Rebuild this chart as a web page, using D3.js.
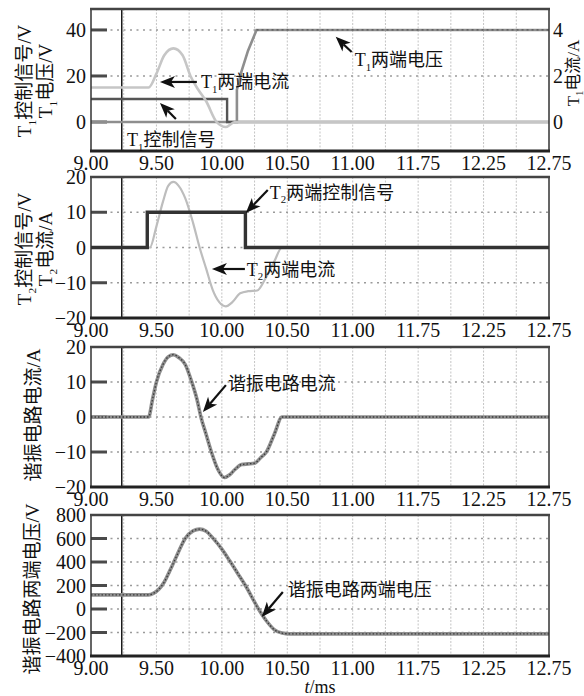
<!DOCTYPE html>
<html>
<head>
<meta charset="utf-8">
<script src="https://cdn.jsdelivr.net/npm/d3@7"></script>
<style>
body { margin: 0; background: #fff; }
svg text { font-family: "Liberation Serif", "Times New Roman", "Noto Sans CJK SC", serif; fill: #111; }
</style>
</head>
<body>
<div id="chart"></div>
<script>
// ---- data ----
var xTicks = [9, 9.5, 10, 10.5, 11, 11.5, 12, 12.5];
var xTickLabels = ["9.00", "9.50", "10.00", "10.50", "11.00", "11.75", "12.25", "12.75"];
var cursorT = 9.235;

// panel 1 : T1 control (V), T1 voltage (V), T1 current (A, right axis)
var p1Ticks = [0, 20, 40];
var p1RightTicks = [0, 2, 4];
var t1CtrlT = [9.00, 10.04, 10.04, 12.5];
var t1CtrlV = [10, 10, 0, 0];
var t1VoltT = [9.00, 10.115, 10.115, 10.15, 10.20, 10.265, 12.5];
var t1VoltV = [0, 0, 14, 22, 31, 40, 40];
var t1CurT = [9.00, 9.44, 9.50, 9.56, 9.63, 9.70, 9.76, 9.82, 9.88, 9.96, 10.03, 10.10, 12.5];
var t1CurA = [1.5, 1.5, 2.1, 2.9, 3.2, 2.9, 2.0, 1.4, 0.9, 0.0, -0.22, 0, 0];

// panel 2 : T2 control (V), T2 current (A)
var p2Ticks = [-20, -10, 0, 10, 20];
var t2CtrlT = [9.00, 9.43, 9.43, 10.18, 10.18, 12.5];
var t2CtrlV = [0, 0, 10, 10, 0, 0];
var t2CurT = [9.00, 9.45, 9.50, 9.55, 9.59, 9.63, 9.67, 9.72, 9.78, 9.83, 9.88, 9.93, 9.98, 10.03, 10.08, 10.14, 10.20, 10.27, 10.33, 10.40, 10.46, 12.5];
var t2CurA = [0, 0, 6, 13, 17.5, 18.6, 17.5, 14, 7, 0, -6, -12, -15.5, -16.7, -15.5, -13, -12.4, -12.2, -9, -4, 0, 0];

// panel 3 : resonant current (A)
var p3Ticks = [-20, -10, 0, 10, 20];
var resCurT = [9.00, 9.44, 9.47, 9.50, 9.55, 9.59, 9.63, 9.67, 9.72, 9.77, 9.81, 9.84, 9.88, 9.92, 9.97, 10.02, 10.06, 10.10, 10.15, 10.20, 10.25, 10.30, 10.34, 10.40, 10.46, 12.5];
var resCurA = [0, 0, 5, 10, 15, 17.2, 17.8, 17, 15, 10, 5, 0, -5, -10, -15, -17.3, -16.5, -15, -13.6, -13.4, -13.2, -11.5, -10, -5, 0, 0];

// panel 4 : resonant voltage (V)
var p4Ticks = [-400, -200, 0, 200, 400, 600, 800];
var resVolT = [9.00, 9.44, 9.48, 9.52, 9.56, 9.60, 9.65, 9.72, 9.78, 9.83, 9.88, 9.93, 10.00, 10.06, 10.12, 10.18, 10.28, 10.34, 10.40, 10.46, 10.52, 12.5];
var resVolV = [120, 120, 135, 170, 230, 320, 440, 600, 665, 680, 662, 605, 510, 410, 305, 200, 0, -100, -175, -205, -212, -212];

// annotations: [panel, text, tipT, tipV, tailT, tailV, textT, textV]
var notes = [
  [0, "T_1两端电流", 9.527, 17.4, 9.809, 17.4, 9.84, 17.4],
  [0, "T_1控制信号", 9.527, 8.3, 9.649, 1.3, 9.275, -7.8],
  [0, "T_1两端电压", 10.870, 37.0, 10.992, 30.4, 11.015, 27.0],
  [1, "T_2两端控制信号", 10.183, 9.8, 10.351, 16.3, 10.366, 15.7],
  [1, "T_2两端电流", 9.924, -6.1, 10.176, -6.1, 10.191, -6.1],
  [2, "谐振电路电流", 9.855, 1.4, 10.031, 9.1, 10.046, 9.7],
  [3, "谐振电路两端电压", 10.305, -68, 10.466, 145, 10.504, 162]
];

// ---- layout ----
var W = 584, H = 696;
var panels = [
  { top: 9,   bottom: 151, domain: [-12.6, 49.1], ticks: p1Ticks, ylab: ["T_1控制信号/V", "T_1电压/V"], labX: [25, 46], labY: 81 },
  { top: 177, bottom: 318, domain: [-20, 20], ticks: p2Ticks, ylab: ["T_2控制信号/V", "T_2电流/A"], labX: [25, 46], labY: 249 },
  { top: 347, bottom: 487, domain: [-20, 20], ticks: p3Ticks, ylab: ["谐振电路电流/A"], labX: [34], labY: 415 },
  { top: 515, bottom: 656, domain: [-400, 800], ticks: p4Ticks, ylab: ["谐振电路两端电压/V"], labX: [33], labY: 589 }
];

var svg = d3.select("#chart").append("svg")
  .attr("width", W)
  .attr("height", H);

var x = d3.scaleLinear().domain([9, 12.5]).range([91, 549]);
var gridT = d3.range(9.25, 12.5, 0.25);

function fillText(text, str, size) {
  var parts = str.split(/_(\d)/);
  parts.forEach(function (p, i) {
    if (!p) return;
    if (i % 2 == 1) {
      text.append("tspan").attr("font-size", size * 0.6).attr("dy", size * 0.25).text(p);
    } else {
      text.append("tspan").attr("dy", i > 0 ? -size * 0.25 : 0).text(p);
    }
  });
}

function lineOf(ts, vs, y, curve) {
  return d3.line()
    .x(function (d) { return x(d[0]); })
    .y(function (d) { return y(d[1]); })
    .curve(curve || d3.curveLinear)(d3.zip(ts, vs));
}

function arrow(g, x1, y1, x2, y2) {
  var a = Math.atan2(y2 - y1, x2 - x1), L = 15, w = 6;
  var bx = x2 - L * Math.cos(a), by = y2 - L * Math.sin(a);
  var nx = x2 - (L - 4) * Math.cos(a), ny = y2 - (L - 4) * Math.sin(a);
  g.append("line")
    .attr("x1", x1).attr("y1", y1).attr("x2", nx).attr("y2", ny)
    .attr("stroke", "#111").attr("stroke-width", 2.2);
  var pts = [[x2, y2],
    [bx - w * Math.sin(a), by + w * Math.cos(a)],
    [nx, ny],
    [bx + w * Math.sin(a), by - w * Math.cos(a)]];
  g.append("polygon").attr("points", pts.map(function (p) { return p.join(","); }).join(" "))
    .attr("fill", "#111");
}

panels.forEach(function (p, k) {
  var y = d3.scaleLinear().domain(p.domain).range([p.bottom, p.top]);
  p.y = y;
  var g = svg.append("g");

  // vertical grid
  g.selectAll(".vg").data(gridT).join("line")
    .attr("x1", d => x(d)).attr("x2", d => x(d))
    .attr("y1", p.top).attr("y2", p.bottom)
    .attr("stroke", "#c4c4c4").attr("stroke-width", 1).attr("stroke-dasharray", "2,1.5");

  // horizontal grid
  var inner = p.ticks.filter(d => d > p.domain[0] && d < p.domain[1]);
  g.selectAll(".hg").data(inner).join("line")
    .attr("x1", 91).attr("x2", 549)
    .attr("y1", d => y(d)).attr("y2", d => y(d))
    .attr("stroke", "#9a9a9a").attr("stroke-width", 1.6).attr("stroke-dasharray", "2,4.5");

  // tick bars
  g.selectAll(".tb").data(inner).join("line")
    .attr("x1", 91).attr("x2", 107)
    .attr("y1", d => y(d)).attr("y2", d => y(d))
    .attr("stroke", "#4a4a4a").attr("stroke-width", 3);

  // tick labels
  g.selectAll(".tl").data(p.ticks.filter(d => d >= p.domain[0] && d <= p.domain[1])).join("text")
    .attr("x", 86).attr("y", d => y(d)).attr("dy", "0.35em")
    .attr("text-anchor", "end").attr("font-size", 20)
    .text(d => d < 0 ? "\u2212" + Math.abs(d) : d);

  // x tick labels
  g.selectAll(".xl").data(xTicks).join("text")
    .attr("x", d => x(d)).attr("y", p.bottom + 19)
    .attr("text-anchor", "middle").attr("font-size", 20)
    .text((d, i) => xTickLabels[i]);

  // y labels
  p.ylab.forEach(function (s, i) {
    var t = g.append("text")
      .attr("transform", "translate(" + (p.labX[i] + 6) + "," + p.labY + ") rotate(-90)")
      .attr("text-anchor", "middle").attr("font-size", 19);
    fillText(t, s, 19);
  });

  // cursor line
  g.append("line")
    .attr("x1", x(cursorT)).attr("x2", x(cursorT))
    .attr("y1", p.top).attr("y2", p.bottom)
    .attr("stroke", "#1a1a1a").attr("stroke-width", 1.5);
});

// ---- series ----
var y1 = panels[0].y;
var y1r = d3.scaleLinear().domain(panels[0].domain.map(d => d / 10)).range([panels[0].bottom, panels[0].top]);
svg.append("path").attr("d", lineOf(t1VoltT, t1VoltV, y1))
  .attr("fill", "none").attr("stroke", "#8e8e8e").attr("stroke-width", 2.6);
svg.append("path").attr("d", lineOf(t1CtrlT, t1CtrlV, y1))
  .attr("fill", "none").attr("stroke", "#555").attr("stroke-width", 2.4);
svg.append("path").attr("d", lineOf(t1CurT, t1CurA, y1r, d3.curveMonotoneX))
  .attr("fill", "none").attr("stroke", "#c6c6c6").attr("stroke-width", 2.6);
svg.append("path").attr("d", lineOf(t1VoltT.slice(5), t1VoltV.slice(5), y1))
  .attr("fill", "none").attr("stroke", "#555").attr("stroke-width", 1.2).attr("stroke-dasharray", "2,3");

// right axis panel 1
svg.selectAll(".rl").data(p1RightTicks).join("text")
  .attr("x", 553).attr("y", d => y1r(d)).attr("dy", "0.35em")
  .attr("font-size", 20).text(d => d);
var rl = svg.append("text")
  .attr("transform", "translate(579,73) rotate(-90)")
  .attr("text-anchor", "middle").attr("font-size", 17);
fillText(rl, "T_1电流/A", 17);

var y2 = panels[1].y;
svg.append("path").attr("d", lineOf(t2CurT, t2CurA, y2, d3.curveMonotoneX))
  .attr("fill", "none").attr("stroke", "#bdbdbd").attr("stroke-width", 2.2);
svg.append("path").attr("d", lineOf(t2CtrlT, t2CtrlV, y2))
  .attr("fill", "none").attr("stroke", "#333").attr("stroke-width", 3.4);

var y3 = panels[2].y;
svg.append("path").attr("d", lineOf(resCurT, resCurA, y3, d3.curveMonotoneX))
  .attr("fill", "none").attr("stroke", "#8f8f8f").attr("stroke-width", 3.6);
svg.append("path").attr("d", lineOf(resCurT, resCurA, y3, d3.curveMonotoneX))
  .attr("fill", "none").attr("stroke", "#3a3a3a").attr("stroke-width", 1.3).attr("stroke-dasharray", "1.5,2");

var y4 = panels[3].y;
svg.append("path").attr("d", lineOf(resVolT, resVolV, y4, d3.curveMonotoneX))
  .attr("fill", "none").attr("stroke", "#8f8f8f").attr("stroke-width", 3.6);
svg.append("path").attr("d", lineOf(resVolT, resVolV, y4, d3.curveMonotoneX))
  .attr("fill", "none").attr("stroke", "#3a3a3a").attr("stroke-width", 1.3).attr("stroke-dasharray", "1.5,2");

// ---- frames ----
panels.forEach(function (p) {
  svg.append("rect")
    .attr("x", 91).attr("y", p.top).attr("width", 458).attr("height", p.bottom - p.top)
    .attr("fill", "none").attr("stroke", "#333").attr("stroke-width", 1.5);
  svg.append("line").attr("x1", 90).attr("x2", 550).attr("y1", p.top).attr("y2", p.top)
    .attr("stroke", "#444").attr("stroke-width", 2.5);
  svg.append("line").attr("x1", 90).attr("x2", 550).attr("y1", p.bottom).attr("y2", p.bottom)
    .attr("stroke", "#222").attr("stroke-width", 3);
});

// ---- annotations ----
var ag = svg.append("g");
notes.forEach(function (n) {
  var y = panels[n[0]].y;
  arrow(ag, x(n[4]), y(n[5]), x(n[2]), y(n[3]));
  var t = ag.append("text")
    .attr("x", x(n[6])).attr("y", y(n[7]) + 6.5)
    .attr("font-size", 18);
  fillText(t, n[1], 18);
});

// x axis title
var xt = svg.append("text").attr("x", 320).attr("y", 693)
  .attr("text-anchor", "middle").attr("font-size", 18);
xt.append("tspan").attr("font-style", "italic").text("t");
xt.append("tspan").text("/ms");
</script>
</body>
</html>
